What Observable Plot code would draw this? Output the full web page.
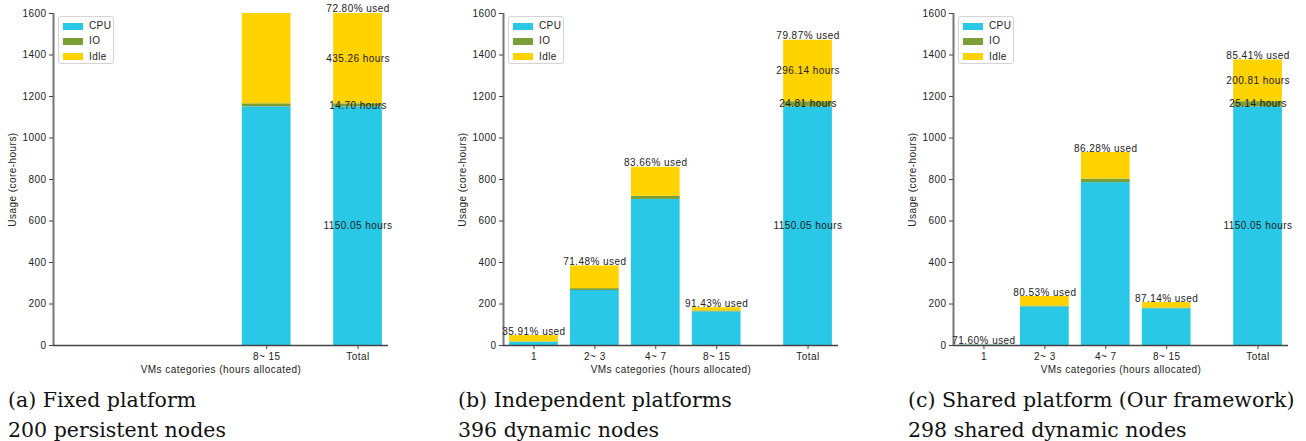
<!DOCTYPE html>
<html><head><meta charset="utf-8">
<script src="https://cdn.jsdelivr.net/npm/d3@7"></script>
<script src="https://cdn.jsdelivr.net/npm/@observablehq/plot@0.6"></script>
<style>
body{margin:0;background:#fff;width:1306px;height:441px;overflow:hidden;position:relative;font-family:"Liberation Sans",Arial,sans-serif;color:#222}
.panel{position:absolute;top:0;width:406px;height:441px}
.panel svg{position:absolute;left:0;top:0;overflow:visible}
.legend{position:absolute;left:58px;top:16px;width:56px;height:48px;border:1px solid #d4d4d4;border-radius:3px;box-sizing:border-box;background:#fff;font-size:10px;letter-spacing:0.4px}
.legend .row{position:absolute;left:4px;height:10px;line-height:10px}
.legend .sw{position:absolute;left:0;top:1.5px;width:20px;height:7px}
.legend .lb{position:absolute;left:26px;top:0;white-space:nowrap}
.cap{position:absolute;left:8px;top:385px;font-family:"DejaVu Serif",serif;font-size:20.5px;line-height:30px;white-space:nowrap;color:#111}
</style></head>
<body>
<script>
const categories = ["1", "2~ 3", "4~ 7", "8~ 15", "Total"];
const seriesNames = ["CPU", "IO", "Idle"];
const seriesColors = ["#29c8e6", "#7b9e36", "#ffd300"];
const yTicks = [0, 200, 400, 600, 800, 1000, 1200, 1400, 1600];
const xLabel = "VMs categories (hours allocated)";
const yLabel = "Usage (core-hours)";

// (a) Fixed platform
const catsA = ["8~ 15", "Total"];
const cpuA = [1150.05, 1150.05];
const ioA = [14.70, 14.70];
const idleA = [435.26, 435.26];
const usedA = [null, "72.80% used"];
const captionA = ["(a) Fixed platform", "200 persistent nodes"];

// (b) Independent platforms
const catsB = ["1", "2~ 3", "4~ 7", "8~ 15", "Total"];
const cpuB = [16, 265, 704, 162, 1150.05];
const ioB = [1.2, 9, 15, 4.6, 24.81];
const idleB = [30.7, 109.3, 140, 15.6, 296.14];
const usedB = ["35.91% used", "71.48% used", "83.66% used", "91.43% used", "79.87% used"];
const captionB = ["(b) Independent platforms", "396 dynamic nodes"];

// (c) Shared platform
const catsC = ["1", "2~ 3", "4~ 7", "8~ 15", "Total"];
const cpuC = [2.0, 186, 785, 177, 1150.05];
const ioC = [0.15, 4, 17, 3.4, 25.14];
const idleC = [0.85, 46, 128, 26.6, 200.81];
const usedC = ["71.60% used", "80.53% used", "86.28% used", "87.14% used", "85.41% used"];
const captionC = ["(c) Shared platform (Our framework)", "298 shared dynamic nodes"];

const pos = c => c === "Total" ? categories.length - 0.5 : categories.indexOf(c);

function makePanel(cats, cpu, io, idle, used, caption, left) {
  const segs = [];
  cats.forEach((c, i) => {
    let base = 0;
    [cpu[i], io[i], idle[i]].forEach((v, k) => {
      segs.push({cat: c, x: pos(c), s: seriesNames[k], y1: base, y2: base + v, v});
      base += v;
    });
  });
  const tops = cats.map((c, i) => ({x: pos(c), y: cpu[i] + io[i] + idle[i], t: used[i]})).filter(d => d.t);
  const hourLabels = segs.filter(d => d.cat === "Total").map(d => ({x: d.x, y: (d.y1 + d.y2) / 2, t: d.v.toFixed(2) + " hours"}));
  const svg = Plot.plot({
    width: 406, height: 380,
    marginLeft: 53, marginRight: 18, marginTop: 13, marginBottom: 35,
    x: {domain: [-0.5, categories.length], axis: null},
    y: {domain: [0, 1600], axis: null},
    color: {domain: seriesNames, range: seriesColors},
    style: {fontFamily: '"Liberation Sans", Arial, sans-serif', fontSize: "10px", letterSpacing: "0.45px", color: "#222", background: "transparent", overflow: "visible"},
    marks: [
      Plot.rectY(segs, {x1: d => d.x - 0.4, x2: d => d.x + 0.4, y1: "y1", y2: "y2", fill: "s"}),
      Plot.ruleX([-0.5], {stroke: "#777", strokeWidth: 2}),
      Plot.ruleY([0], {stroke: "#444", strokeWidth: 1.5}),
      Plot.axisY(yTicks, {tickSize: 4, tickPadding: 3, label: null, stroke: "#444", tickFormat: d => String(d)}),
      Plot.axisX(cats.map(pos), {tickFormat: d => cats.find(c => pos(c) === d), tickSize: 4, tickPadding: 3, label: null, stroke: "#444"}),
      Plot.text(tops, {x: "x", y: "y", text: "t", lineAnchor: "bottom", dy: -1, fill: "#222"}),
      Plot.text(hourLabels, {x: "x", y: "y", text: "t", fill: "#222"}),
      Plot.text([xLabel], {frameAnchor: "bottom", lineAnchor: "middle", textAnchor: "middle", dy: 24, fill: "#222"}),
      Plot.text([yLabel], {frameAnchor: "left", lineAnchor: "middle", textAnchor: "middle", rotate: -90, dx: -41, fill: "#222"})
    ]
  });
  const div = document.createElement("div");
  div.className = "panel";
  div.style.left = left + "px";
  div.appendChild(svg);
  const lg = document.createElement("div");
  lg.className = "legend";
  seriesNames.forEach((n, k) => {
    const r = document.createElement("div");
    r.className = "row";
    r.style.top = (4 + k * 15.3) + "px";
    r.innerHTML = `<span class="sw" style="background:${seriesColors[k]}"></span><span class="lb">${n}</span>`;
    lg.appendChild(r);
  });
  div.appendChild(lg);
  const cap = document.createElement("div");
  cap.className = "cap";
  cap.innerHTML = caption.join("<br>");
  div.appendChild(cap);
  document.body.appendChild(div);
}

makePanel(catsA, cpuA, ioA, idleA, usedA, captionA, 0);
makePanel(catsB, cpuB, ioB, idleB, usedB, captionB, 450);
makePanel(catsC, cpuC, ioC, idleC, usedC, captionC, 900);
</script>
</body></html>
